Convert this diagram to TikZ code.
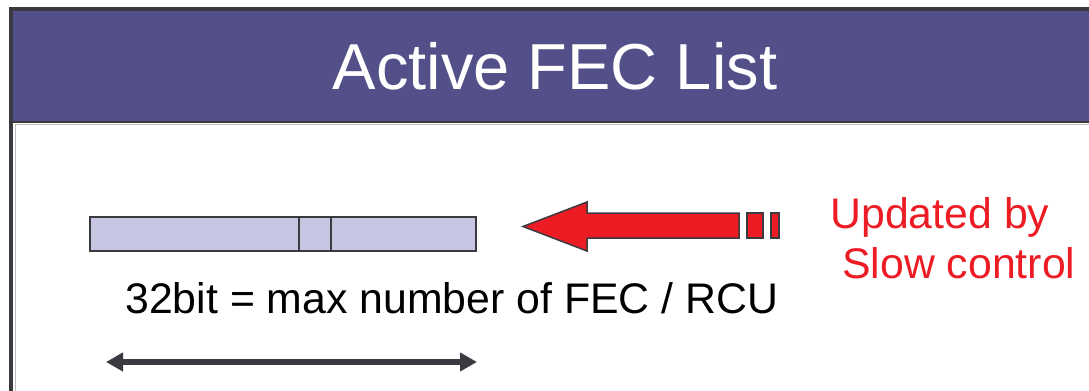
\documentclass[tikz,border=0pt]{standalone}
\usepackage{fontspec}
\setmainfont{Liberation Sans}
\usetikzlibrary{arrows.meta, positioning}
\definecolor{titleBand}{RGB}{83,80,137}
\definecolor{frameGray}{RGB}{60,58,65}
\definecolor{fieldFill}{RGB}{199,198,226}
\definecolor{slowRed}{RGB}{237,28,36}

\begin{document}
\begin{tikzpicture}[x=0.5pt, y=-0.5pt,
    field/.style={rectangle, draw=frameGray, line width=0.75pt, fill=fieldFill, minimum height=17pt, inner sep=0pt, outer sep=0pt},
    label/.style={font=\fontsize{21.4pt}{25pt}\selectfont, inner sep=0pt},
    >=Latex
]
\useasboundingbox (0,0) rectangle (1089,391);

% frame and title band
\fill[titleBand] (11,9) rectangle (1100,122);
\draw[frameGray, line width=1.75pt] (1100,9) -- (11,9) -- (11,400);
\draw[frameGray, line width=1pt] (13,122) -- (1100,122);
\draw[gray!50, line width=0.5pt] (15,124.5) -- (1100,124.5);
\draw[gray!50, line width=0.5pt] (15.5,124) -- (15.5,400);
\node[font=\fontsize{32.5pt}{38pt}\selectfont, text=white, inner sep=0pt, anchor=base] (title) at (555,90) {Active FEC List};

% register fields
\node[field, minimum width=104.5pt, anchor=west] (f1) at (90,234) {};
\node[field, minimum width=16pt, right=0pt of f1] (f2) {};
\node[field, minimum width=72.5pt, right=0pt of f2] (f3) {};

\node[label, anchor=base west] (bits) at (125,313) {32bit = max number of FEC / RCU};

% slow control update arrow
\draw[frameGray, line width=0.75pt, fill=slowRed, line join=miter]
    (739,213) -- (587,213) -- (587,202) -- (523,226.5) -- (587,251) -- (587,238) -- (739,238) -- cycle;
\draw[frameGray, line width=0.75pt, fill=slowRed] (747,213) rectangle (763,238);
\draw[frameGray, line width=0.75pt, fill=slowRed] (771,213) rectangle (779,238);

\node[label, text=slowRed, align=left, anchor=base west] (upd) at (830,278) {Updated by\\\hspace*{0.28em}Slow control};

% register width
\coordinate (wL) at (106,362);
\coordinate (wR) at (477,362);
\draw[frameGray, line width=3pt, {Triangle[length=8.5pt,width=9pt]}-{Triangle[length=8.5pt,width=9pt]}] (wL) -- (wR);
\end{tikzpicture}
\end{document}
